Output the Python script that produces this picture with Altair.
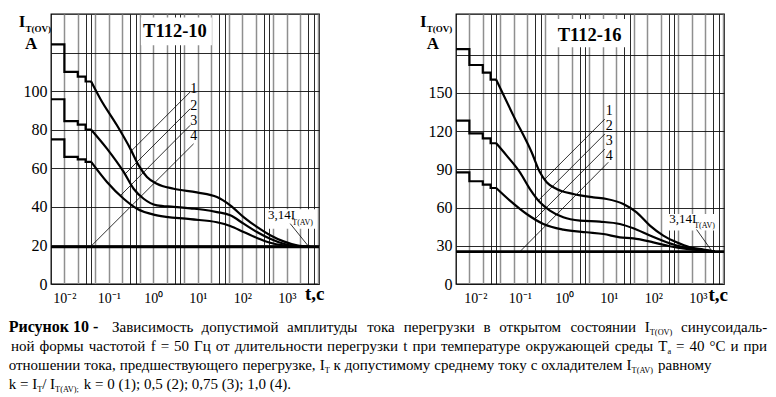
import re
import altair as alt
import pandas as pd

FONT = "Liberation Serif"

# ---------------- shared axis data ----------------
X_DOMAIN = [0.005, 5300]
X_GRID = [0.01, 0.02, 0.03, 0.04, 0.05, 0.1, 0.2, 0.3, 0.4, 0.5, 1, 2, 3, 4, 5,
          10, 20, 30, 40, 50, 100, 200, 300, 400, 500, 1000, 2000, 3000, 4000, 5000]
STEP_T = [0.005, 0.01, 0.02, 0.03, 0.04]
CURVES = ["1", "2", "3"]

# ---------------- T112-10 (left) ----------------
A_STEPS = [[124.3, 110, 107.5, 105], [95.8, 84.5, 82.6, 80], [75, 65.9, 64.6, 63.3]]
A1_T = [0.04, 0.064, 0.152, 0.303, 0.468, 0.718, 1.2, 2.86, 9.5, 26.9, 53.5, 107, 213, 424, 847, 1690, 3360]
A1_V = [105, 96.1, 82.3, 70.2, 61.5, 55.5, 52, 49.4, 47.5, 45.1, 40.8, 34.7, 29.6, 25.3, 22.1, 20, 19.2]
A2_T = [0.04, 0.0905, 0.215, 0.36, 0.605, 1.2, 2.86, 6.75, 13.5, 26.9, 53.5, 107, 213, 424, 847, 1690, 3360]
A2_V = [80, 70.2, 58.1, 49.4, 44.2, 40.8, 40, 39.2, 38.5, 37.3, 35.6, 31.3, 27, 23.5, 20.9, 19.5, 19.2]
A3_T = [0.04, 0.0905, 0.215, 0.43, 1.2, 6.75, 26.9, 53.5, 107, 213, 424, 847, 1690, 3360]
A3_V = [63.3, 52.9, 44.2, 39, 35.6, 33.6, 32, 30.1, 27, 23.9, 21.4, 20, 19.3, 19.2]
A_ASYM = 19.2
A_LEAD_T1 = [6.75, 6.75, 6.75, 8.05]
A_LEAD_V1 = [99.6, 90.9, 82.3, 72.7]
A_LEAD_T2 = [0.32, 0.23, 0.178, 0.0382]
A_LEAD_V2 = [69.0, 57, 45.6, 19.2]
A_LAB_T = [8.05, 8.05, 8.05, 8.05]
A_LAB_V = [101.2, 92.4, 84.4, 76.5]

# ---------------- T112-16 (right) ----------------
B_STEPS = [[184.3, 171.8, 165.8, 160.3], [128.2, 118.2, 114.3, 110.4], [87.6, 80.6, 78, 75.3]]
B1_T = [0.04, 0.0975, 0.251, 0.386, 0.546, 0.916, 2.17, 6.12, 12.2, 28.9, 57.5, 114.5, 229, 456, 906, 1815, 3300]
B1_V = [160.3, 132.1, 103.3, 87.6, 79.8, 74.5, 70.6, 68, 66.7, 62.8, 56.2, 45.8, 38, 32.7, 28.8, 27, 25.5]
B2_T = [0.04, 0.0689, 0.137, 0.23, 0.386, 0.647, 1.29, 3.06, 8.6, 24.2, 48.5, 114.5, 272, 644, 1520, 3300]
B2_V = [110.4, 100.7, 87.6, 74.5, 64.1, 57.6, 52.3, 49.7, 48.9, 47.1, 43.7, 38, 32.7, 28.8, 27, 25.5]
B3_T = [0.04, 0.0817, 0.194, 0.46, 1.29, 4.33, 10.3, 24.2, 48.5, 136, 322, 764, 1815, 3300]
B3_V = [75.3, 65.4, 54.9, 47.1, 42.7, 40.6, 39.2, 36.6, 35.8, 32.7, 29.6, 27.5, 26.2, 25.5]
B_ASYM = 25.4
B_LEAD_T1 = [11.1, 11.1, 11.1, 13.3]
B_LEAD_V1 = [129.4, 117.7, 105.9, 95.5]
B_LEAD_T2 = [0.492, 0.36, 0.293, 0.137]
B_LEAD_V2 = [82.1, 65.7, 50.7, 25.4]
B_LAB_T = [14, 14, 14, 14]
B_LAB_V = [136, 124.3, 112.5, 100.7]

LEAD_LABELS = ["1", "2", "3", "4"]

# ---------------- caption text (subscripts written as _{...}) ----------------
CAP_BOLD = "Рисунок 10 -"
CAP_LINES = [
    "Зависимость допустимой амплитуды тока перегрузки в открытом состоянии I_{T(OV)} синусоидаль-",
    "ной формы частотой f = 50 Гц от длительности перегрузки t при температуре окружающей среды T_{a} = 40 °C и при",
    "отношении тока, предшествующего перегрузке, I_{T} к допустимому среднему току с охладителем I_{T(AV)} равному",
    "k = I_{T}/ I_{T(AV);} k = 0 (1); 0,5 (2); 0,75 (3); 1,0 (4).",
]
# page-pixel layout of the caption lines: baseline y, start x, justified end x (None = natural)
CAP_Y = [330, 349, 368, 387]
CAP_X0 = [115, 14, 11.7, 11.7]
CAP_X1 = [770, 770, None, None]
CAP_SIZE, CAP_SUB, CAP_BOLD_SIZE = 15, 8.3, 16

# approximate Times/Liberation Serif advance widths (1/1000 em) for layout
W = {}
W.update(zip("абвгдежзийклмнопрстуфхцчшщъыьэюя",
             [444, 509, 472, 410, 509, 444, 691, 395, 535, 535, 486, 499, 633, 535, 500, 535,
              500, 444, 437, 500, 648, 500, 535, 503, 770, 770, 517, 672, 456, 429, 747, 460]))
W.update(zip("АБВГДЕЖЗИЙКЛМНОПРСТУФХЦЧШЩЪЫЬЭЮЯ",
             [722, 574, 667, 578, 682, 611, 896, 501, 722, 722, 667, 678, 889, 722, 722, 722,
              556, 667, 611, 637, 757, 722, 722, 667, 1000, 1000, 706, 891, 574, 660, 1028, 667]))
W.update(zip("abcdefghijklmnopqrstuvwxyz",
             [444, 500, 444, 500, 444, 333, 500, 500, 278, 278, 500, 278, 778, 500, 500, 500,
              500, 333, 389, 278, 500, 500, 722, 500, 500, 444]))
W.update(zip("ABCDEFGHIJKLMNOPQRSTUVWXYZ",
             [722, 667, 667, 722, 611, 556, 722, 722, 333, 389, 722, 611, 889, 722, 722, 556,
              722, 667, 556, 611, 722, 722, 944, 722, 722, 611]))
W.update({c: 500 for c in "0123456789"})
W.update({" ": 250, ",": 250, ".": 250, ";": 278, ":": 278, "(": 333, ")": 333,
          "=": 564, "/": 278, "-": 333, "°": 400})


def tw(s, size):
    return sum(W.get(ch, 500) for ch in s) * size / 1000.0


def tokens(word):
    out = []
    for m in re.finditer(r"_\{([^}]*)\}|([^_]+)", word):
        if m.group(1) is not None:
            out.append((m.group(1), True))
        else:
            out.append((m.group(2), False))
    return out


def layout_caption():
    segs = []  # (text, x, y, size, weight)
    segs.append((CAP_BOLD, 11.7, CAP_Y[0], CAP_BOLD_SIZE, "bold"))
    for line, y, x0, x1 in zip(CAP_LINES, CAP_Y, CAP_X0, CAP_X1):
        words = [tokens(w) for w in line.split(" ")]
        widths = [sum(tw(t, CAP_SUB if sub else CAP_SIZE) for t, sub in wd) for wd in words]
        if x1 is None:
            gap = tw(" ", CAP_SIZE)
        else:
            gap = (x1 - x0 - sum(widths)) / (len(words) - 1)
        x = x0
        for wd, wdt in zip(words, widths):
            xx = x
            for t, sub in wd:
                size = CAP_SUB if sub else CAP_SIZE
                segs.append((t, xx, y + (3 if sub else 0), size, "normal"))
                xx += tw(t, size)
            x += wdt + gap
    return segs


LEFT_ORIGIN = (54, 12)

PANELS = [
    dict(name="T112-10", ymax=140, yvals=[0, 20, 40, 60, 80, 100, 120], yhide=120,
         steps=A_STEPS, smooth=[(A1_T, A1_V), (A2_T, A2_V), (A3_T, A3_V)], asym=A_ASYM,
         lead=(A_LEAD_T1, A_LEAD_V1, A_LEAD_T2, A_LEAD_V2), lab=(A_LAB_T, A_LAB_V),
         title_t=3.06, title_v=131, box=(0.526, 20.7, 123.8, 138.2),
         k_t=377, k_v=35.9, ks_t=1330, ks_v=31.8, k_lead=(1194, 31.3, 3090, 19.5),
         kbox=(357, 4740, 28.7, 38.7), ldx=0,
         ititle=(-32.3, 13, -25.6, 17.5, -26, 35), tc=(254, 286)),
    dict(name="T112-16", ymax=211.8, yvals=[0, 30, 60, 90, 120, 150, 180], yhide=180,
         steps=B_STEPS, smooth=[(B1_T, B1_V), (B2_T, B2_V), (B3_T, B3_V)], asym=B_ASYM,
         lead=(B_LEAD_T1, B_LEAD_V1, B_LEAD_T2, B_LEAD_V2), lab=(B_LAB_T, B_LAB_V),
         title_t=5.05, title_v=195.3, box=(0.773, 34.3, 185.7, 207.9),
         k_t=312, k_v=51, ks_t=1130, ks_v=45.3, k_lead=(1282, 42.7, 2786, 26.2),
         kbox=(282, 3945, 41.9, 54.9), ldx=6,
         ititle=(-36, 13, -29.2, 17.5, -29.3, 35), tc=(252.4, 287)),
]

ONE = alt.InlineData(values=[{"a": 0}])

MANT = "round(datum.value / pow(10, floor(log(datum.value) / LN10 + 1e-6)))"
X_LABEL_EXPR = ("datum.value == 0.01 ? '10⁻²' : datum.value == 0.1 ? '10⁻¹' : "
                "datum.value == 1 ? '10⁰' : datum.value == 10 ? '10¹' : "
                "datum.value == 100 ? '10²' : datum.value == 1000 ? '10³' : ''")


def ptext(txt, x, y, size, weight="normal", align="left", baseline="alphabetic"):
    return alt.Chart(ONE).mark_text(
        text=txt, font=FONT, fontSize=size, fontWeight=weight, align=align,
        baseline=baseline, color="black"
    ).encode(x=alt.value(x), y=alt.value(y))


def build(p, with_caption):
    xs = alt.Scale(type="log", domain=X_DOMAIN, nice=False)
    ys = alt.Scale(domain=[0, p["ymax"]], nice=False, zero=False)
    xaxis = alt.Axis(
        values=X_GRID, labelExpr=X_LABEL_EXPR, title=None, grid=True, ticks=False,
        domain=False, labelFont=FONT, labelFontSize=14, labelColor="black",
        labelPadding=7, labelOffset=p["ldx"], labelOverlap=False, labelFlush=False,
        gridColor={"condition": {"test": f"{MANT} == 3 || {MANT} == 4", "value": "#111111"},
                   "value": "#8f8f8f"},
        gridWidth={"condition": {"test": f"{MANT} == 3 || {MANT} == 4", "value": 0.9},
                   "value": 1.5},
        gridOpacity=1,
    )
    yaxis = alt.Axis(
        values=p["yvals"], labelExpr=f"datum.value == {p['yhide']} ? '' : datum.label",
        title=None, grid=True, gridColor="#111111", gridWidth=0.9, gridOpacity=1,
        ticks=False, domain=False, labelFont=FONT, labelFontSize=16, labelColor="black",
        labelPadding=4,
    )

    def X(f):
        return alt.X(f, type="quantitative", scale=xs, axis=xaxis)

    def Y(f):
        return alt.Y(f, type="quantitative", scale=ys, axis=yaxis)

    srows = []
    for c, levels in zip(CURVES, p["steps"]):
        i = 0
        for k, lev in enumerate(levels):
            srows.append(dict(curve=c, t=STEP_T[k], v=lev, i=i)); i += 1
            srows.append(dict(curve=c, t=STEP_T[k + 1], v=lev, i=i)); i += 1
    sdf = pd.DataFrame(srows)
    crow = []
    for c, (ts, vs) in zip(CURVES, p["smooth"]):
        for t, v in zip(ts, vs):
            crow.append(dict(curve=c, t=t, v=v))
    cdf = pd.DataFrame(crow)

    t1, v1, t2, v2 = p["lead"]
    ldf = pd.DataFrame(dict(t1=t1, v1=v1, t2=t2, v2=v2))
    lt, lv = p["lab"]
    labdf = pd.DataFrame(dict(t=lt, v=lv, text=LEAD_LABELS))
    b = p["box"]
    kb = p["kbox"]
    boxdf = pd.DataFrame(dict(t1=[b[0], kb[0]], t2=[b[1], kb[1]], v1=[b[2], kb[2]], v2=[b[3], kb[3]]))
    kl = p["k_lead"]
    kldf = pd.DataFrame(dict(t1=[kl[0]], v1=[kl[1]], t2=[kl[2]], v2=[kl[3]]))

    layers = [
        alt.Chart(boxdf).mark_rect(fill="white").encode(
            x=X("t1"), x2="t2", y=Y("v1"), y2="v2"),
        alt.Chart(pd.DataFrame(dict(v=[p["asym"]]))).mark_rule(color="black", strokeWidth=2.6).encode(
            y=Y("v")),
        alt.Chart(sdf).mark_line(color="black", strokeWidth=2.2, interpolate="linear").encode(
            x=X("t"), y=Y("v"), detail="curve:N", order="i:Q"),
        alt.Chart(cdf).mark_line(color="black", strokeWidth=2.2, interpolate="monotone").encode(
            x=X("t"), y=Y("v"), detail="curve:N", order="t:Q"),
        alt.Chart(ldf).mark_rule(color="black", strokeWidth=0.8).encode(
            x=X("t1"), x2="t2", y=Y("v1"), y2="v2"),
        alt.Chart(kldf).mark_rule(color="black", strokeWidth=0.8).encode(
            x=X("t1"), x2="t2", y=Y("v1"), y2="v2"),
        alt.Chart(labdf).mark_text(font=FONT, fontSize=14, color="black").encode(
            x=X("t"), y=Y("v"), text="text:N"),
        alt.Chart(pd.DataFrame(dict(t=[p["title_t"]], v=[p["title_v"]], text=[p["name"]]))).mark_text(
            font=FONT, fontSize=18.5, fontWeight="bold", color="black").encode(
            x=X("t"), y=Y("v"), text="text:N"),
        alt.Chart(pd.DataFrame(dict(t=[p["k_t"]], v=[p["k_v"]], text=["3,14I"]))).mark_text(
            font=FONT, fontSize=13, align="left", baseline="middle", color="black").encode(
            x=X("t"), y=Y("v"), text="text:N"),
        alt.Chart(pd.DataFrame(dict(t=[p["ks_t"]], v=[p["ks_v"]], text=["T(AV)"]))).mark_text(
            font=FONT, fontSize=8, align="left", baseline="middle", color="black").encode(
            x=X("t"), y=Y("v"), text="text:N"),
    ]
    it = p["ititle"]
    layers += [
        ptext("I", it[0], it[1], 17, "bold"),
        ptext("T(OV)", it[2], it[3], 9, "bold"),
        ptext("A", it[4], it[5], 17, "bold"),
        ptext("t,c", p["tc"][0], p["tc"][1], 19, "bold"),
    ]
    if with_caption:
        ox, oy = LEFT_ORIGIN
        for (txt, x, y, size, weight) in layout_caption():
            layers.append(ptext(txt, round(x - ox, 1), y - oy, size, weight))

    return alt.layer(*layers).properties(width=268, height=270)


left = build(PANELS[0], True)
right = build(PANELS[1], False)

chart = alt.hconcat(left, right, spacing=137, bounds="flush").properties(
    padding={"left": 0, "top": 4, "right": 0, "bottom": 0},
    background="white",
).configure_view(stroke="black", strokeWidth=1.3)

chart.save("out.html", embed_options={"renderer": "svg", "actions": False})
